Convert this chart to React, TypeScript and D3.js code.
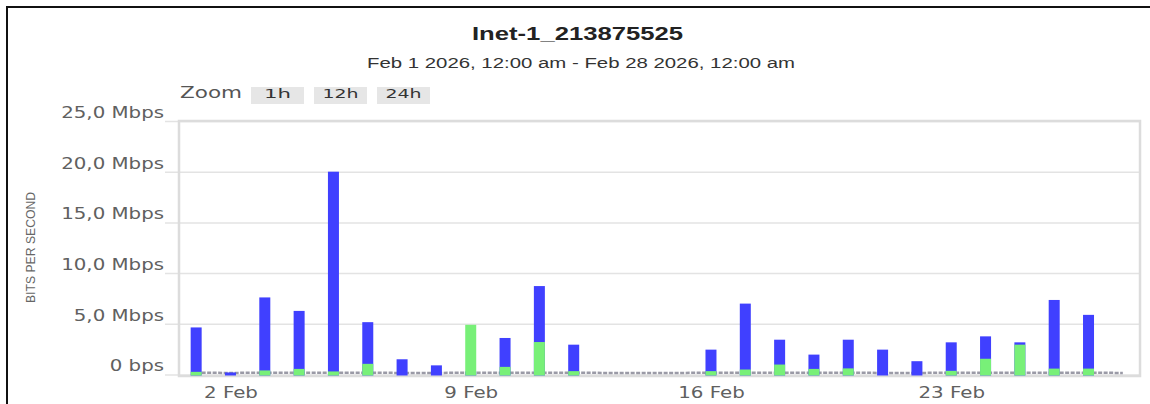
import * as d3 from "d3";
import React, { useEffect, useRef } from "react";

// traffic per day, Mbps
const days = [
  "2026-02-01", "2026-02-02", "2026-02-03", "2026-02-04", "2026-02-05", "2026-02-06", "2026-02-07",
  "2026-02-08", "2026-02-09", "2026-02-10", "2026-02-11", "2026-02-12", "2026-02-13", "2026-02-14",
  "2026-02-15", "2026-02-16", "2026-02-17", "2026-02-18", "2026-02-19", "2026-02-20", "2026-02-21",
  "2026-02-22", "2026-02-23", "2026-02-24", "2026-02-25", "2026-02-26", "2026-02-27", "2026-02-28",
];
const outTraffic = [
  4.64, 0.2, 7.6, 6.27, 20.0, 5.16, 1.5, 0.9, 0.3, 3.6, 8.72, 2.94, 0, 0,
  0, 2.45, 6.99, 3.43, 1.96, 3.43, 2.45, 1.31, 3.17, 3.76, 3.17, 7.35, 5.88, 0,
];
const inTraffic = [
  0.26, 0, 0.4, 0.55, 0.3, 1.05, 0, 0, 4.9, 0.75, 3.2, 0.33, 0, 0,
  0, 0.33, 0.49, 0.98, 0.55, 0.6, 0, 0, 0.36, 1.55, 2.94, 0.58, 0.58, 0,
];
const baseTraffic = [
  0.18, 0.15, 0.18, 0.18, 0.18, 0.18, 0.15, 0.15, 0.18, 0.18, 0.18, 0.18, 0.15, 0.15,
  0.15, 0.18, 0.18, 0.18, 0.18, 0.18, 0.15, 0.15, 0.18, 0.18, 0.18, 0.18, 0.18, 0.15,
];

const yTicks = [0, 5, 10, 15, 20, 25];
const yTickLabels = ["0 bps", "5,0 Mbps", "10,0 Mbps", "15,0 Mbps", "20,0 Mbps", "25,0 Mbps"];
const xTicks = ["2026-02-02", "2026-02-09", "2026-02-16", "2026-02-23"];
const zoomButtons = ["1h", "12h", "24h"];
const chartTitle = "Inet-1_213875525";
const chartSubtitle = "Feb 1 2026, 12:00 am - Feb 28 2026, 12:00 am";

const WIDTH = 1150;
const HEIGHT = 404;
const plot = { left: 179, top: 121, right: 1140, bottom: 376 };
const STRETCH = 1.32;

const App: React.FC = () => {
  const svgRef = useRef<SVGSVGElement>(null);

  useEffect(() => {
    const svg = d3.select(svgRef.current);
    svg.selectAll("*").remove();

    const parse = d3.utcParse("%Y-%m-%d");
    const dates = days.map((d) => parse(d) as Date);

    const x = d3
      .scaleUtc()
      .domain([d3.utcHour.offset(dates[0], -12), d3.utcHour.offset(dates[dates.length - 1], 12)])
      .range([plot.left, plot.right]);
    const y = d3.scaleLinear().domain([-0.15, 25]).range([plot.bottom, plot.top]);

    // outer frame
    svg
      .append("rect")
      .attr("x", 7)
      .attr("y", 7)
      .attr("width", WIDTH + 40)
      .attr("height", HEIGHT + 40)
      .attr("fill", "none")
      .attr("stroke", "#111")
      .attr("stroke-width", 2);

    svg
      .append("text")
      .attr("x", 577.5)
      .attr("y", 39.5)
      .attr("text-anchor", "middle")
      .attr("font-family", "'Liberation Sans', Arial, sans-serif")
      .attr("font-weight", "bold")
      .attr("font-size", 18)
      .attr("fill", "#222")
      .attr("textLength", 211)
      .attr("lengthAdjust", "spacingAndGlyphs")
      .text(chartTitle);

    svg
      .append("text")
      .attr("x", 581)
      .attr("y", 68.3)
      .attr("text-anchor", "middle")
      .attr("font-family", "'Liberation Sans', Arial, sans-serif")
      .attr("font-size", 14)
      .attr("fill", "#333")
      .attr("textLength", 428)
      .attr("lengthAdjust", "spacingAndGlyphs")
      .text(chartSubtitle);

    // range selector
    svg
      .append("text")
      .attr("x", 180)
      .attr("y", 97.5)
      .attr("font-family", "'DejaVu Sans', Verdana, sans-serif")
      .attr("font-size", 15)
      .attr("fill", "#555")
      .attr("textLength", 62)
      .attr("lengthAdjust", "spacingAndGlyphs")
      .text("Zoom");

    const btn = svg
      .append("g")
      .selectAll("g")
      .data(zoomButtons)
      .join("g")
      .attr("transform", (_, i) => `translate(${251 + i * 63},87)`);
    btn
      .append("rect")
      .attr("width", 53)
      .attr("height", 17)
      .attr("fill", "#e6e6e6");
    btn
      .append("text")
      .attr("x", 26.5)
      .attr("y", 11.3)
      .attr("text-anchor", "middle")
      .attr("font-family", "'DejaVu Sans', Verdana, sans-serif")
      .attr("font-size", 13)
      .attr("fill", "#333")
      .attr("textLength", (d) => (d.length === 2 ? 27 : 36))
      .attr("lengthAdjust", "spacingAndGlyphs")
      .text((d) => d);

    // y axis title
    svg
      .append("text")
      .attr("transform", "translate(35,247.5) rotate(-90)")
      .attr("text-anchor", "middle")
      .attr("font-family", "'Liberation Sans', Arial, sans-serif")
      .attr("font-size", 13)
      .attr("fill", "#666")
      .attr("textLength", 111)
      .attr("lengthAdjust", "spacingAndGlyphs")
      .text("BITS PER SECOND");

    const plotW = plot.right - plot.left;
    svg
      .append("g")
      .attr("transform", `translate(${plot.left},0)`)
      .call(
        d3
          .axisLeft(y)
          .tickValues(yTicks)
          .tickSize(-plotW)
          .tickFormat((_, i) => yTickLabels[i])
      )
      .call((g) => g.select(".domain").remove())
      .call((g) =>
        g
          .selectAll("line")
          .attr("x1", -14)
          .attr("x2", plotW)
          .attr("stroke", "#e3e3e3")
          .attr("stroke-width", 1.5)
      )
      .call((g) =>
        g
          .selectAll("text")
          .attr("x", -15 / STRETCH)
          .attr("y", -3.5)
          .attr("dy", 0)
          .attr("transform", `scale(${STRETCH},1)`)
          .attr("font-family", "'DejaVu Sans', Verdana, sans-serif")
          .attr("font-size", 15)
          .attr("fill", "#606060")
      );

    svg
      .append("g")
      .attr("transform", `translate(0,${plot.bottom})`)
      .call(
        d3
          .axisBottom(x)
          .tickValues(xTicks.map((d) => parse(d) as Date))
          .tickFormat((d) => d3.utcFormat("%-d %b")(d as Date))
      )
      .call((g) => g.select(".domain").remove())
      .call((g) => g.selectAll("line").remove())
      .call((g) =>
        g
          .selectAll("text")
          .attr("y", 22)
          .attr("dy", 0)
          .attr("transform", `scale(${STRETCH},1)`)
          .attr("font-family", "'DejaVu Sans', Verdana, sans-serif")
          .attr("font-size", 15)
          .attr("fill", "#606060")
      );

    svg
      .append("rect")
      .attr("x", plot.left)
      .attr("y", plot.top)
      .attr("width", plotW)
      .attr("height", plot.bottom - plot.top)
      .attr("fill", "none")
      .attr("stroke", "#dcdcdc")
      .attr("stroke-width", 2.5);

    const line = d3
      .line<number>()
      .x((_, i) => x(dates[i]))
      .y((d) => y(d));
    svg
      .append("path")
      .attr("d", line(baseTraffic))
      .attr("fill", "none")
      .attr("stroke", "#9a9aa6")
      .attr("stroke-width", 2.5)
      .attr("stroke-dasharray", "4,1.5");

    const barW = 11;
    svg
      .append("g")
      .selectAll("rect")
      .data(outTraffic)
      .join("rect")
      .attr("x", (_, i) => x(dates[i]) - barW / 2)
      .attr("y", (d) => y(d))
      .attr("width", barW)
      .attr("height", (d) => (d > 0 ? y(0) - y(d) + 1 : 0))
      .attr("fill", "#4040ff");

    svg
      .append("g")
      .selectAll("rect")
      .data(inTraffic)
      .join("rect")
      .attr("x", (_, i) => x(dates[i]) - barW / 2)
      .attr("y", (d) => y(d))
      .attr("width", barW)
      .attr("height", (d) => (d > 0 ? y(0) - y(d) + 1 : 0))
      .attr("fill", "#78f078");
  }, []);

  return (
    <svg
      ref={svgRef}
      width={WIDTH}
      height={HEIGHT}
      style={{ position: "absolute", left: 0, top: 0, background: "#fff" }}
    />
  );
};

export default App;
